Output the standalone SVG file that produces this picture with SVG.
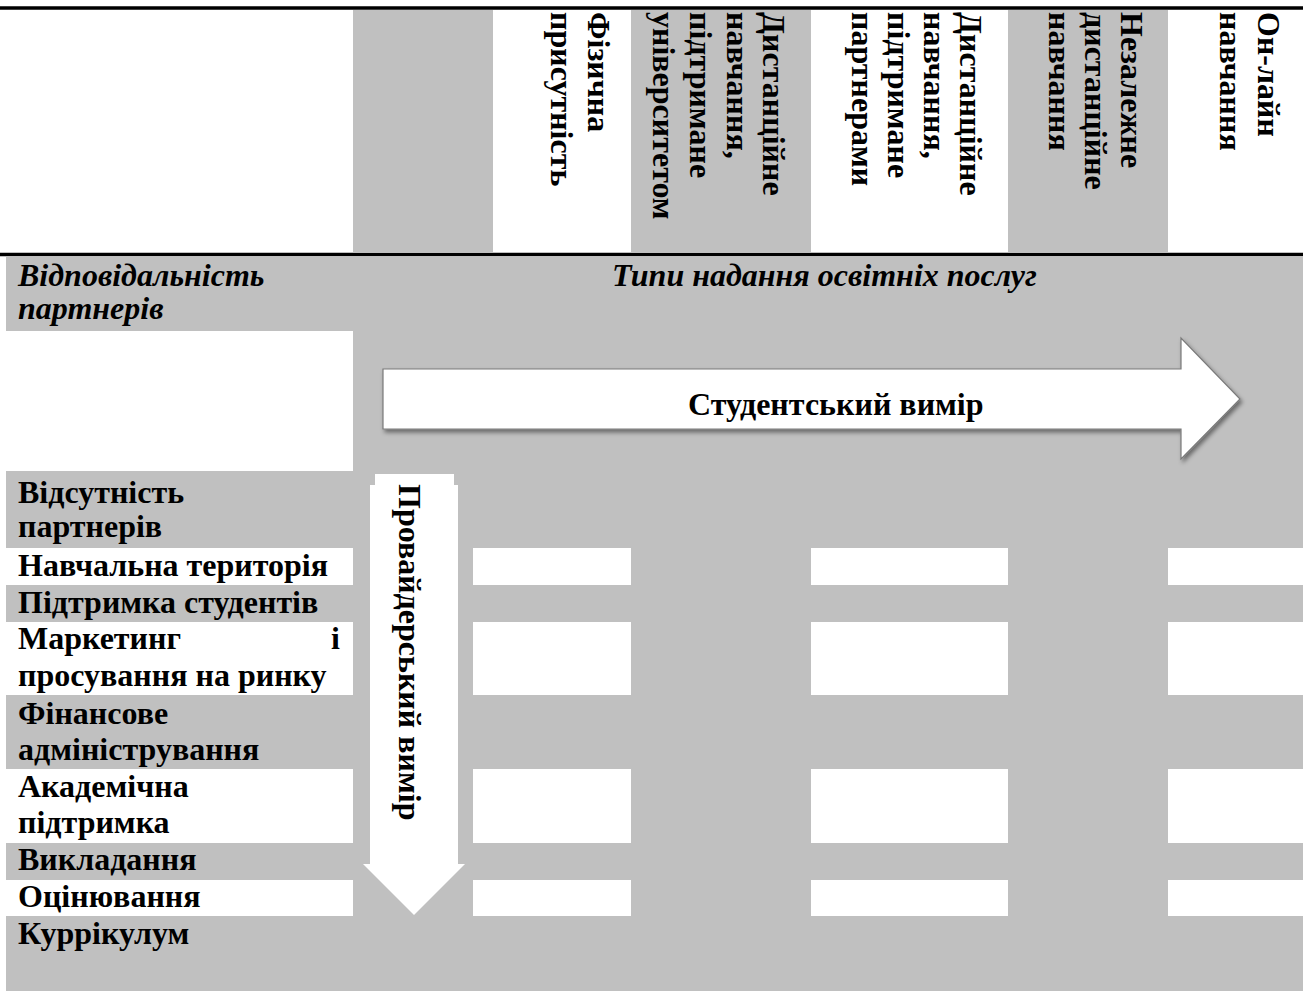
<svg xmlns="http://www.w3.org/2000/svg" width="1309" height="994" viewBox="0 0 1309 994">
<style>
.g{fill:#c0c0c0}
.w{fill:#ffffff}
.t{font-family:"Liberation Serif","Times New Roman",serif;font-weight:bold;font-size:32px;fill:#000}
.ti{font-family:"Liberation Serif","Times New Roman",serif;font-weight:bold;font-style:italic;font-size:32px;fill:#000}
.rule{stroke:#000;stroke-width:3.5}
</style>
<defs>
<filter id="sh" x="-5%" y="-20%" width="110%" height="140%">
<feDropShadow dx="2" dy="3" stdDeviation="2" flood-color="#000" flood-opacity="0.45"/>
</filter>
</defs>
<rect width="1309" height="994" fill="#fff"/>
<g id="header">
<rect class="g" x="353" y="10" width="140" height="242"/>
<rect class="g" x="631" y="10" width="180" height="242"/>
<rect class="g" x="1008" y="10" width="160" height="242"/>
<line class="rule" x1="0" y1="8" x2="1303" y2="8"/>
<line class="rule" x1="0" y1="254.5" x2="1303" y2="254.5"/>
<g id="col-physical">
<text class="t" transform="translate(588,12) rotate(90)">Фізична</text>
<text class="t" transform="translate(551,12) rotate(90)">присутність</text>
</g>
<g id="col-distance-univ">
<text class="t" transform="translate(763,12) rotate(90)">Дистанційне</text>
<text class="t" transform="translate(727,12) rotate(90)">навчання,</text>
<text class="t" transform="translate(690,12) rotate(90)">підтримане</text>
<text class="t" transform="translate(653,12) rotate(90)">університетом</text>
</g>
<g id="col-distance-partners">
<text class="t" transform="translate(960,12) rotate(90)">Дистанційне</text>
<text class="t" transform="translate(924,12) rotate(90)">навчання,</text>
<text class="t" transform="translate(888,12) rotate(90)">підтримане</text>
<text class="t" transform="translate(852,12) rotate(90)">партнерами</text>
</g>
<g id="col-independent">
<text class="t" transform="translate(1121,12) rotate(90)">Незалежне</text>
<text class="t" transform="translate(1085,12) rotate(90)">дистанційне</text>
<text class="t" transform="translate(1049,12) rotate(90)">навчання</text>
</g>
<g id="col-online">
<text class="t" transform="translate(1258,12) rotate(90)">Он-лайн</text>
<text class="t" transform="translate(1220,12) rotate(90)">навчання</text>
</g>
</g>
<g id="body">
<rect class="g" x="6" y="257" width="1297" height="734"/>
<rect class="w" x="6" y="331" width="347" height="140"/>
<g id="white-rows">
<rect class="w" x="6" y="548" width="347" height="37"/>
<rect class="w" x="473" y="548" width="158" height="37"/>
<rect class="w" x="811" y="548" width="197" height="37"/>
<rect class="w" x="1168" y="548" width="135" height="37"/>
<rect class="w" x="6" y="622" width="347" height="73"/>
<rect class="w" x="473" y="622" width="158" height="73"/>
<rect class="w" x="811" y="622" width="197" height="73"/>
<rect class="w" x="1168" y="622" width="135" height="73"/>
<rect class="w" x="6" y="769" width="347" height="74"/>
<rect class="w" x="473" y="769" width="158" height="74"/>
<rect class="w" x="811" y="769" width="197" height="74"/>
<rect class="w" x="1168" y="769" width="135" height="74"/>
<rect class="w" x="6" y="880" width="347" height="36"/>
<rect class="w" x="473" y="880" width="158" height="36"/>
<rect class="w" x="811" y="880" width="197" height="36"/>
<rect class="w" x="1168" y="880" width="135" height="36"/>
</g>
</g>
<g id="title-left">
<text class="ti" x="18" y="286">Відповідальність</text>
<text class="ti" x="18" y="319">партнерів</text>
</g>
<g id="title-types">
<text class="ti" x="612" y="286">Типи надання освітніх послуг</text>
</g>
<g id="connectors">
<g id="student-arrow">
<polygon points="383,369 1181,369 1181,338 1240,399 1181,459 1181,429 383,429" fill="#fff" stroke="#7a7a7a" stroke-width="1.2" filter="url(#sh)"/>
<text class="t" x="688" y="415">Студентський вимір</text>
</g>
<g id="provider-arrow">
<rect class="w" x="375" y="474" width="79" height="12"/>
<polygon class="w" points="370,485 458,485 458,864 465,864 414,915 363,864 370,864"/>
<text class="t" transform="translate(399,484) rotate(90)">Провайдерський вимір</text>
</g>
</g>
<g id="row-absence"><text class="t" x="18" y="503">Відсутність</text><text class="t" x="18" y="537">партнерів</text></g>
<g id="row-territory"><text class="t" x="18" y="576">Навчальна територія</text></g>
<g id="row-support"><text class="t" x="18" y="613">Підтримка студентів</text></g>
<g id="row-marketing"><text class="t" x="18" y="649">Маркетинг</text><text class="t" x="331" y="649">і</text><text class="t" x="18" y="686">просування на ринку</text></g>
<g id="row-finance"><text class="t" x="18" y="724">Фінансове</text><text class="t" x="18" y="760">адміністрування</text></g>
<g id="row-academic"><text class="t" x="18" y="797">Академічна</text><text class="t" x="18" y="833">підтримка</text></g>
<g id="row-teaching"><text class="t" x="18" y="870">Викладання</text></g>
<g id="row-assessment"><text class="t" x="18" y="907">Оцінювання</text></g>
<g id="row-curriculum"><text class="t" x="18" y="944">Куррікулум</text></g>
</svg>
